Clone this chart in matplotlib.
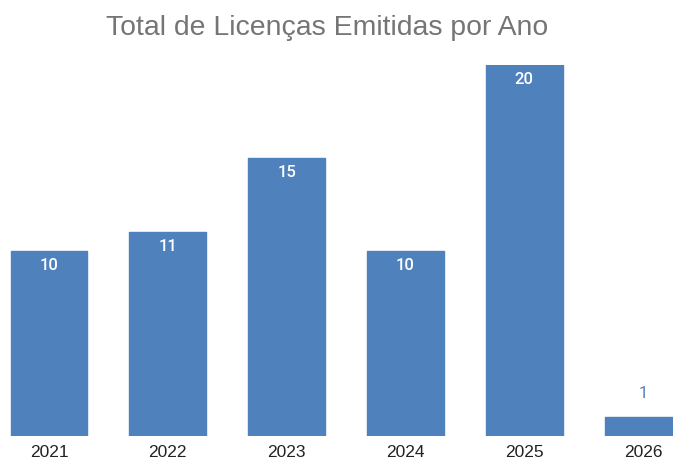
import matplotlib
matplotlib.use("Agg")
import matplotlib.pyplot as plt

# Data
anos = ["2021", "2022", "2023", "2024", "2025", "2026"]
licencas = [10, 11, 15, 10, 20, 1]

cor_barra = "#4F81BD"

fig = plt.figure(figsize=(6.73, 4.60), dpi=100)
ax = fig.add_axes([0, 23 / 460, 1, 1 - 23 / 460 - 66 / 460])

x = range(len(anos))
bars = ax.bar(x, licencas, width=0.648, color=cor_barra, edgecolor=cor_barra,
              linewidth=1, joinstyle="round")

ax.set_xlim(-0.4125, 5.2525)
ax.set_ylim(0, 20)

# value labels: inside tall bars, above small ones
for b, v in zip(bars, licencas):
    cx = b.get_x() + b.get_width() / 2
    if v >= 3:
        ax.annotate(str(v), (cx, v), xytext=(0, -10), textcoords="offset points",
                    ha="center", va="center", color="white", fontsize=12,
                    family="Roboto", fontweight="medium", clip_on=False)
    else:
        ax.annotate(str(v), (cx, v), xytext=(0, 18), textcoords="offset points",
                    ha="center", va="center", color=cor_barra, fontsize=12,
                    family="Roboto", clip_on=False)

ax.set_xticks(list(x))
ax.set_xticklabels(anos, fontsize=12.5, family="Liberation Sans", color="#222222")
ax.tick_params(axis="x", length=0, pad=6)
ax.set_yticks([])
for s in ax.spines.values():
    s.set_visible(False)

fig.text(0.486, 1 - 28 / 460, "Total de Licenças Emitidas por Ano", ha="center",
         va="center", fontsize=20.4, color="#757575", family="Liberation Sans")

fig.savefig("out.png", dpi=100)
